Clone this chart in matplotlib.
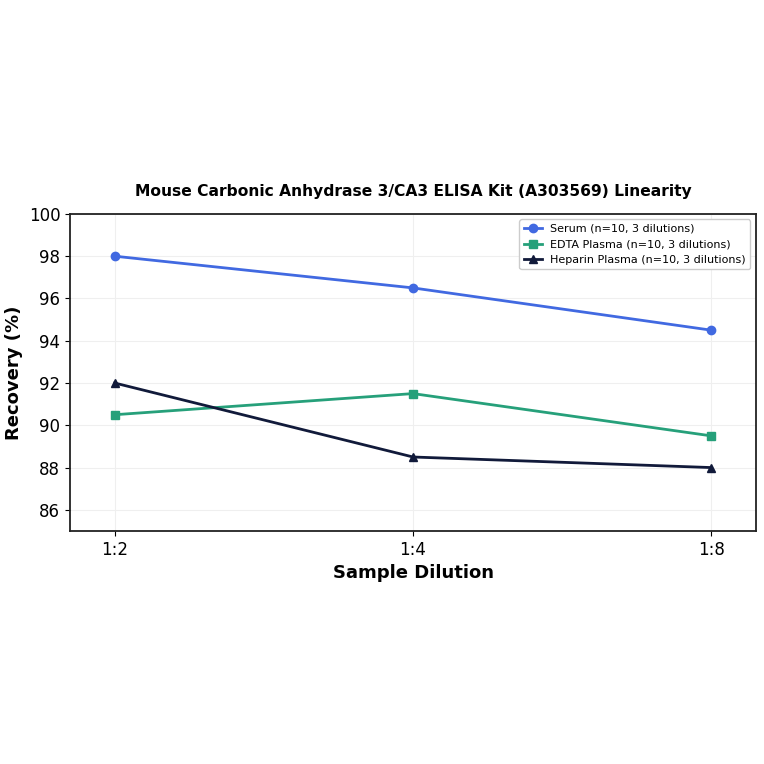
import matplotlib
matplotlib.use("Agg")
import matplotlib.pyplot as plt

dilutions = ["1:2", "1:4", "1:8"]
serum = [98.0, 96.5, 94.5]
edta = [90.5, 91.5, 89.5]
heparin = [92.0, 88.5, 88.0]
labels = ["Serum (n=10, 3 dilutions)", "EDTA Plasma (n=10, 3 dilutions)",
          "Heparin Plasma (n=10, 3 dilutions)"]

fig = plt.figure(figsize=(7.64, 7.64), dpi=100)
ax = fig.add_axes([0.0916, 0.305, 0.898, 0.415])

x = list(range(len(dilutions)))
ax.plot(x, serum, color="#4169e1", marker="o", lw=2, ms=6, label=labels[0])
ax.plot(x, edta, color="#26a07a", marker="s", lw=2, ms=6, label=labels[1])
ax.plot(x, heparin, color="#111a3a", marker="^", lw=2, ms=6, label=labels[2])

ax.set_xticks(x)
ax.set_xticklabels(dilutions)
ax.set_xlim(-0.15, 2.15)
ax.set_ylim(85, 100)
ax.set_yticks([86, 88, 90, 92, 94, 96, 98, 100])
ax.tick_params(labelsize=12)
ax.grid(True, color="#efefef", lw=0.8)
for s in ax.spines.values():
    s.set_color("#222222")
    s.set_linewidth(1.3)

ax.set_xlabel("Sample Dilution", fontsize=13, fontweight="bold")
ax.set_ylabel("Recovery (%)", fontsize=13, fontweight="bold")
ax.set_title("Mouse Carbonic Anhydrase 3/CA3 ELISA Kit (A303569) Linearity",
             fontsize=11.2, fontweight="bold", pad=13)
ax.legend(loc="upper right", fontsize=8, framealpha=1, handlelength=1.6)

fig.savefig("out.png", dpi=100)
